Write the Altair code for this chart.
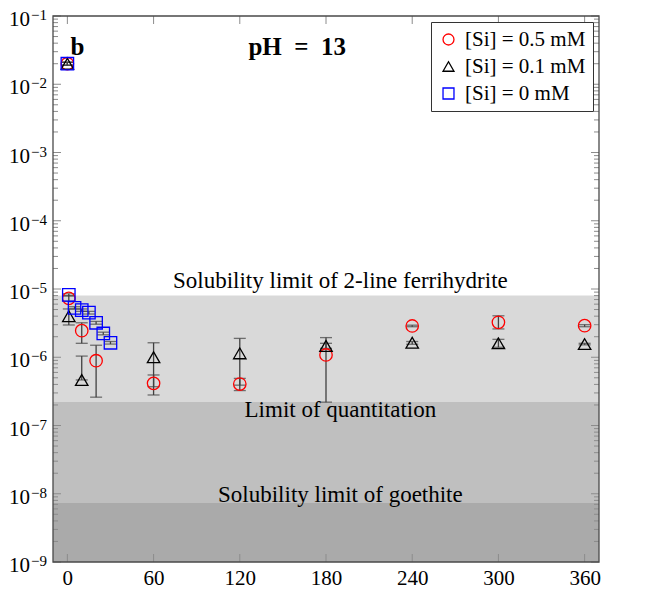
import altair as alt
import pandas as pd

W, H = 546, 546
FONT = "Liberation Serif"
TICK = "#8c8c8c"
FRAME = "#4a4a4a"
ERR = "#404040"

series_names = ["[Si] = 0.5 mM", "[Si] = 0.1 mM", "[Si] = 0 mM"]
series_colors = ["red", "black", "blue"]
series_shapes = ["circle", "triangle-up", "square"]

# [Si] = 0.5 mM
t_05 = [0, 1, 10, 20, 60, 120, 180, 240, 300, 360]
c_05 = [2.0e-2, 7.3e-6, 2.45e-6, 8.9e-7, 4.15e-7, 4.05e-7, 1.08e-6, 2.87e-6, 3.25e-6, 2.9e-6]
lo_05 = [1.9e-2, 6.6e-6, 1.6e-6, 2.6e-7, 2.8e-7, 3.25e-7, 2.2e-7, 2.8e-6, 2.6e-6, 2.8e-6]
hi_05 = [2.1e-2, 8.0e-6, 3.2e-6, 1.5e-6, 5.5e-7, 4.9e-7, 1.94e-6, 2.95e-6, 4.05e-6, 3.0e-6]

# [Si] = 0.1 mM
t_01 = [0, 1, 10, 60, 120, 180, 240, 300, 360]
c_01 = [2.0e-2, 4.0e-6, 4.65e-7, 1.0e-6, 1.14e-6, 1.46e-6, 1.63e-6, 1.6e-6, 1.56e-6]
lo_01 = [1.9e-2, 2.97e-6, 4.65e-7, 3.7e-7, 3.9e-7, 1.35e-6, 1.55e-6, 1.4e-6, 1.52e-6]
hi_01 = [2.1e-2, 5.1e-6, 1.04e-6, 1.63e-6, 1.89e-6, 1.6e-6, 1.7e-6, 1.83e-6, 1.6e-6]

# [Si] = 0 mM
t_00 = [0, 1, 5, 10, 15, 20, 25, 30]
c_00 = [2.0e-2, 8.2e-6, 5.3e-6, 4.9e-6, 4.5e-6, 3.2e-6, 2.23e-6, 1.63e-6]
lo_00 = [1.9e-2, 7.9e-6, 5.1e-6, 4.7e-6, 4.3e-6, 3.05e-6, 2.13e-6, 1.56e-6]
hi_00 = [2.1e-2, 8.5e-6, 5.5e-6, 5.1e-6, 4.7e-6, 3.35e-6, 2.33e-6, 1.7e-6]

# horizontal bands (lower, upper, colour) and their labels
band_lo = [2.23e-7, 7.3e-9, 1e-9]
band_hi = [8.0e-6, 2.23e-7, 7.3e-9]
band_fill = ["#d9d9d9", "#bfbfbf", "#aaaaaa"]
band_text = ["Solubility limit of 2-line ferrihydrite", "Limit of quantitation", "Solubility limit of goethite"]
band_text_x = [190, 190, 190]
band_text_y = [1.02e-5, 1.33e-7, 7.6e-9]

x_ticks = [0, 60, 120, 180, 240, 300, 360]
major_exp = [-9, -8, -7, -6, -5, -4, -3, -2, -1]
exp_labels = ["\u22129", "\u22128", "\u22127", "\u22126", "\u22125", "\u22124", "\u22123", "\u22122", "\u22121"]
minor_mult = [2, 3, 4, 5, 6, 7, 8, 9]

rows = []
for name, ts, cs, los, his in [
    (series_names[0], t_05, c_05, lo_05, hi_05),
    (series_names[1], t_01, c_01, lo_01, hi_01),
    (series_names[2], t_00, c_00, lo_00, hi_00),
]:
    for t, c, lo, hi in zip(ts, cs, los, his):
        rows.append({"series": name, "t": t, "c": c, "lo": lo, "hi": hi})
df = pd.DataFrame(rows)

xs = alt.Scale(domain=[-10, 370], nice=False, zero=False)
ys = alt.Scale(type="log", domain=[1e-9, 1e-1], nice=False)

x_axis = alt.Axis(values=x_ticks, tickSize=0, domain=False, grid=False, title=None,
                  labelFont=FONT, labelFontSize=21, labelColor="black", labelPadding=22,
                  labelBaseline="alphabetic")


def X(field):
    return alt.X(field, scale=xs, axis=x_axis)


def Y(field):
    return alt.Y(field, scale=ys, axis=None)


layers = []

# bands
for lo, hi, fill in zip(band_lo, band_hi, band_fill):
    bd = pd.DataFrame({"lo": [lo], "hi": [hi]})
    layers.append(alt.Chart(bd).mark_rect(color=fill, strokeWidth=0).encode(
        x=alt.value(0), x2=alt.value(W), y=Y("lo:Q"), y2="hi:Q"))

# y ticks (inward, both sides)
major_vals = [10.0 ** e for e in major_exp]
minor_vals = [m * 10.0 ** e for e in major_exp[:-1] for m in minor_mult]
for vals, length in [(major_vals, 8), (minor_vals, 5)]:
    td = pd.DataFrame({"v": vals})
    layers.append(alt.Chart(td).mark_rule(color=TICK, strokeWidth=1).encode(
        x=alt.value(0), x2=alt.value(length), y=Y("v:Q")))
    layers.append(alt.Chart(td).mark_rule(color=TICK, strokeWidth=1).encode(
        x=alt.value(W), x2=alt.value(W - length), y=Y("v:Q")))

# x ticks (inward, top and bottom)
xt = pd.DataFrame({"v": x_ticks})
layers.append(alt.Chart(xt).mark_rule(color=TICK, strokeWidth=1).encode(
    x=X("v:Q"), y=alt.value(H), y2=alt.value(H - 8)))
layers.append(alt.Chart(xt).mark_rule(color=TICK, strokeWidth=1).encode(
    x=X("v:Q"), y=alt.value(0), y2=alt.value(8)))

# y tick labels 10^k
yl = pd.DataFrame({"v": major_vals, "base": ["10"] * len(major_vals), "exp": exp_labels})
layers.append(alt.Chart(yl).mark_text(font=FONT, fontSize=21, align="right", baseline="middle",
                                      dy=4, color="black").encode(
    x=alt.value(-23), y=Y("v:Q"), text="base:N"))
layers.append(alt.Chart(yl).mark_text(font=FONT, fontSize=15, align="left", baseline="middle",
                                      dy=-1, color="black").encode(
    x=alt.value(-22), y=Y("v:Q"), text="exp:N"))

# band labels
bt = pd.DataFrame({"x": band_text_x, "y": band_text_y, "label": band_text})
layers.append(alt.Chart(bt).mark_text(font=FONT, fontSize=23, align="center", baseline="alphabetic",
                                      color="black").encode(
    x=X("x:Q"), y=Y("y:Q"), text="label:N"))

# title texts
tt = pd.DataFrame({"x": [7, 160], "y": [0.0268, 0.0268], "label": ["b", "pH\u2002=\u200213"]})
layers.append(alt.Chart(tt).mark_text(font=FONT, fontSize=25, fontWeight="bold", align="center",
                                      baseline="alphabetic", color="black").encode(
    x=X("x:Q"), y=Y("y:Q"), text="label:N"))

# error bars
layers.append(alt.Chart(df).mark_rule(color=ERR, strokeWidth=1.3).encode(
    x=X("t:Q"), y=Y("lo:Q"), y2="hi:Q"))
layers.append(alt.Chart(df).transform_fold(["lo", "hi"], as_=["k", "val"]).mark_tick(
    color=ERR, orient="horizontal", size=12, thickness=1.3).encode(
    x=X("t:Q"), y=Y("val:Q")))

# markers
legend = alt.Legend(title=None, orient="top-right", offset=6, padding=7, strokeColor="#333333",
                    fillColor="white", labelFont=FONT, labelFontSize=21, labelColor="black",
                    symbolSize=120, symbolStrokeWidth=1.3, rowPadding=5, labelOffset=6,
                    cornerRadius=0)
layers.append(alt.Chart(df).mark_point(filled=False, size=155, strokeWidth=1.3, opacity=1).encode(
    x=X("t:Q"), y=Y("c:Q"),
    color=alt.Color("series:N", scale=alt.Scale(domain=series_names, range=series_colors), legend=legend),
    shape=alt.Shape("series:N", scale=alt.Scale(domain=series_names, range=series_shapes), legend=legend),
))

# frame
layers.append(alt.Chart(pd.DataFrame({"a": [0]})).mark_rect(fill=None, stroke=FRAME, strokeWidth=1.3).encode(
    x=alt.value(0), x2=alt.value(W), y=alt.value(0), y2=alt.value(H)))

chart = alt.layer(*layers).properties(
    width=W, height=H,
    autosize=alt.AutoSizeParams(type="none"),
    padding={"left": 45, "top": 8, "right": 40, "bottom": 29},
).configure_view(stroke=None)

chart.save("out.html", embed_options={"renderer": "svg", "actions": False})
